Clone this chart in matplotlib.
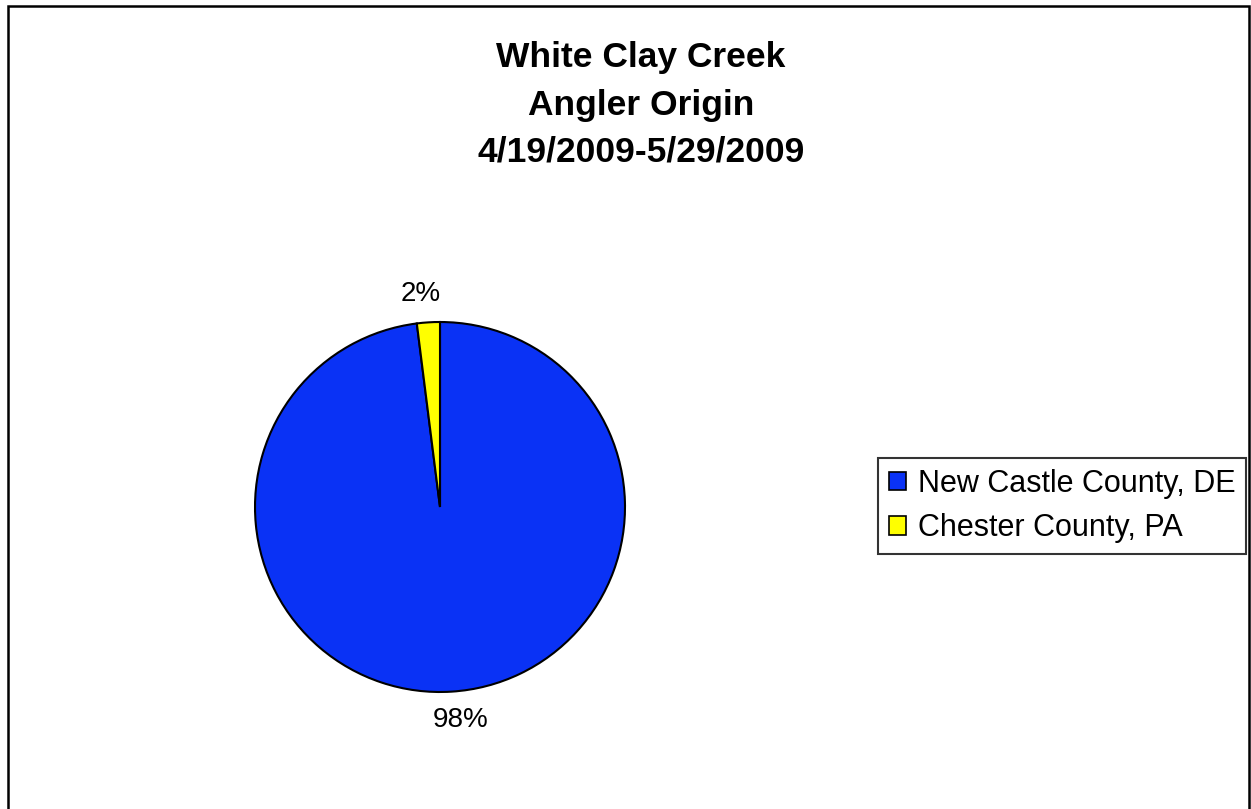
import matplotlib

matplotlib.use("Agg")
import matplotlib.pyplot as plt
from matplotlib.patches import Rectangle

plt.rcParams["font.family"] = ["Liberation Sans", "DejaVu Sans"]

counties = ["New Castle County, DE", "Chester County, PA"]
shares = [98, 2]
colors = ["#0a32f5", "#ffff00"]
title_lines = ["White Clay Creek", "Angler Origin", "4/19/2009-5/29/2009"]

W, H = 1251, 809
fig = plt.figure(figsize=(W / 100, H / 100), dpi=100)

# outer chart frame, bottom edge runs off the page
fig.patches.append(
    Rectangle((8 / W, -0.05), (1249 - 8) / W, 1.05 - 6 / H,
              transform=fig.transFigure, fill=False,
              edgecolor="black", linewidth=1.8)
)

# three title lines, one baseline each
for line, base in zip(title_lines, [67, 115, 162]):
    fig.text(641 / W, 1 - base / H, line, ha="center", va="baseline",
             fontsize=25.5, fontweight="bold")

cx, cy, r = 440, 507, 185
ax = fig.add_axes([(cx - r) / W, (H - cy - r) / H, 2 * r / W, 2 * r / H])
wedges, _, autotexts = ax.pie(
    shares, colors=colors, startangle=90, counterclock=False,
    autopct="%d%%", pctdistance=1.155,
    wedgeprops={"edgecolor": "black", "linewidth": 1.5},
    textprops={"fontsize": 20},
)
ax.set_xlim(-1, 1)
ax.set_ylim(-1, 1)
ax.set_aspect("equal")
# labels sit a little further out to the side than the wedge midline
for t, dx in zip(autotexts, [0.04, -0.03]):
    x, y = t.get_position()
    t.set_position((x + dx, y))
    t.set_clip_on(False)

leg = fig.legend(
    wedges, counties, loc="upper left",
    bbox_to_anchor=(878 / W, 1 - 458 / H), fontsize=22,
    frameon=True, fancybox=False, edgecolor="black",
    handlelength=0.55, handleheight=0.55, handletextpad=0.4,
    borderpad=0.35, labelspacing=0.48, borderaxespad=0,
)
leg.get_frame().set_linewidth(1.5)
for h in leg.legend_handles:
    h.set_linewidth(1.2)

fig.savefig("out.png", dpi=100)
